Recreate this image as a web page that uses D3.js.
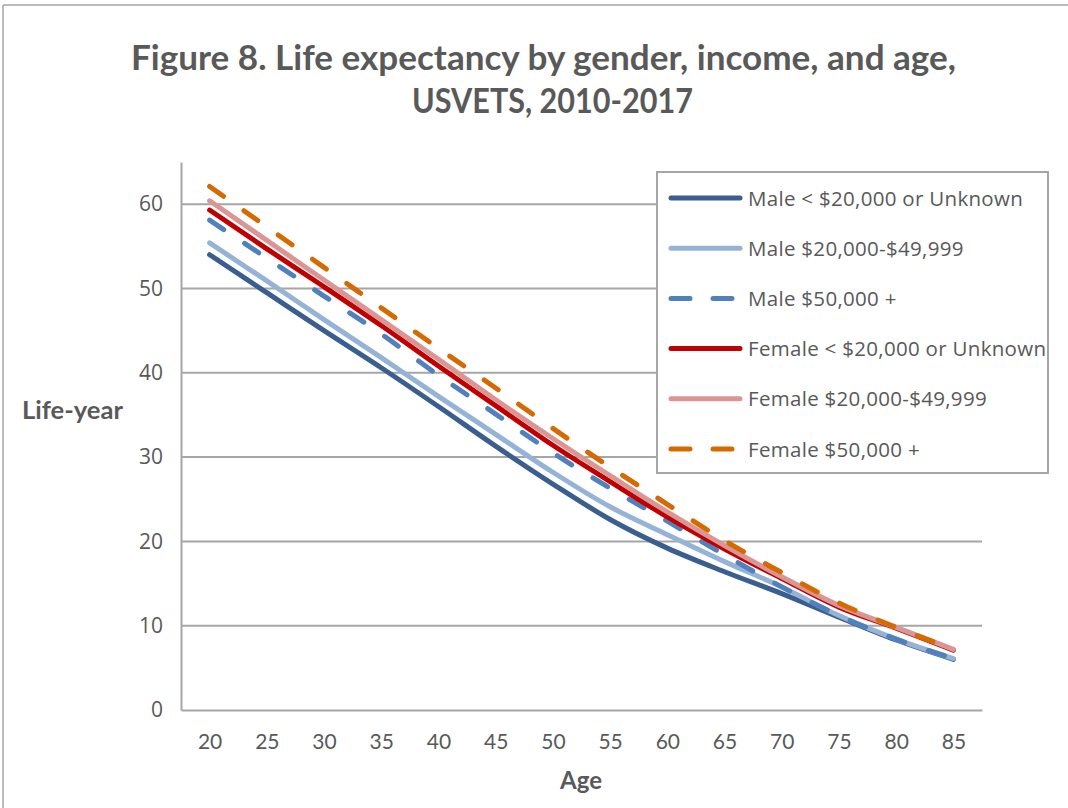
<!DOCTYPE html>
<html>
<head>
<meta charset="utf-8">
<script src="https://cdn.jsdelivr.net/npm/d3@7"></script>
<style>
  html, body { margin: 0; padding: 0; background: #fff; }
  svg { display: block; }
</style>
</head>
<body>
<svg id="chart" width="1068" height="808"></svg>
<script>
const ages = [20, 25, 30, 35, 40, 45, 50, 55, 60, 65, 70, 75, 80, 85];
const yTicks = [0, 10, 20, 30, 40, 50, 60];
const seriesNames = [
  "Male < $20,000 or Unknown",
  "Male $20,000-$49,999",
  "Male $50,000 +",
  "Female < $20,000 or Unknown",
  "Female $20,000-$49,999",
  "Female $50,000 +"
];
const maleLow    = [54.0, 49.5, 45.0, 40.6, 36.0, 31.3, 26.8, 22.6, 19.2, 16.4, 13.8, 11.0, 8.3, 6.0];
const maleMid    = [55.4, 50.9, 46.3, 41.8, 37.2, 32.7, 28.2, 24.1, 20.8, 17.6, 14.6, 11.2, 8.4, 6.1];
const maleHigh   = [58.1, 53.6, 49.1, 44.6, 39.7, 35.1, 30.5, 26.3, 22.4, 18.4, 14.6, 11.2, 8.4, 6.1];
const femaleLow  = [59.3, 54.7, 50.2, 45.6, 40.8, 36.1, 31.4, 27.1, 22.9, 19.1, 15.6, 12.2, 9.7, 7.1];
const femaleMid  = [60.4, 55.7, 51.0, 46.3, 41.6, 36.8, 32.2, 27.8, 23.5, 19.5, 15.8, 12.4, 9.8, 7.2];
const femaleHigh = [62.1, 57.3, 52.5, 47.7, 42.9, 38.2, 33.4, 28.8, 24.4, 20.1, 16.3, 12.7, 9.8, 7.2];
const seriesValues = [maleLow, maleMid, maleHigh, femaleLow, femaleMid, femaleHigh];
const colors = ["#3A5F8F", "#95B3D7", "#4F81BD", "#C00000", "#DA9694", "#D46A00"];
const dashed = [false, false, true, false, false, true];

const svg = d3.select("#chart");
const font = "'Open Sans', 'DejaVu Sans', sans-serif";
const boldFont = "Lato, 'Open Sans', sans-serif";
const textColor = "#595959";
const gridColor = "#A6A6A6";

// outer frame (top and left edges visible)
svg.append("line").attr("x1", 3).attr("x2", 1068).attr("y1", 5).attr("y2", 5)
  .attr("stroke", "#A6A6A6").attr("stroke-width", 1.5);
svg.append("line").attr("x1", 3).attr("x2", 3).attr("y1", 5).attr("y2", 808)
  .attr("stroke", "#A6A6A6").attr("stroke-width", 1.5);

// Title
const title = svg.append("g").attr("font-family", boldFont)
  .attr("font-weight", "bold").attr("fill", textColor).attr("font-size", 35);
title.append("text").attr("x", 131).attr("y", 70).attr("textLength", 825)
  .attr("lengthAdjust", "spacingAndGlyphs")
  .text("Figure 8. Life expectancy by gender, income, and age,");
title.append("text").attr("x", 412).attr("y", 113).attr("textLength", 281)
  .attr("lengthAdjust", "spacingAndGlyphs")
  .text("USVETS, 2010-2017");

const pLeft = 181, pRight = 982, pTop = 162, pBottom = 710;
const x = d3.scalePoint().domain(ages).range([pLeft, pRight]).padding(0.5);
const y = d3.scaleLinear().domain([0, 65]).range([pBottom, pTop]);

// gridlines
svg.append("g").selectAll("line").data(yTicks.filter(d => d > 0)).join("line")
  .attr("x1", pLeft).attr("x2", pRight)
  .attr("y1", d => y(d)).attr("y2", d => y(d))
  .attr("stroke", gridColor).attr("stroke-width", 2);

// y axis
const yAxis = svg.append("g").attr("transform", `translate(${pLeft},0)`)
  .call(d3.axisLeft(y).tickValues(yTicks).tickSize(0).tickPadding(18));
yAxis.select(".domain").attr("stroke", gridColor).attr("stroke-width", 2);
yAxis.selectAll("text").attr("font-family", font).attr("font-size", 21)
  .attr("fill", textColor);

// x axis
const xAxis = svg.append("g").attr("transform", `translate(0,${pBottom})`)
  .call(d3.axisBottom(x).tickSize(0).tickPadding(24));
xAxis.select(".domain").attr("stroke", gridColor).attr("stroke-width", 2);
xAxis.selectAll("text").attr("font-family", boldFont).attr("font-size", 21)
  .attr("fill", textColor);

// axis titles
svg.append("text").attr("x", 22).attr("y", 419).attr("textLength", 101)
  .attr("lengthAdjust", "spacingAndGlyphs")
  .attr("font-family", boldFont).attr("font-weight", "bold")
  .attr("font-size", 24).attr("fill", textColor).text("Life-year");
svg.append("text").attr("x", 581).attr("y", 789).attr("text-anchor", "middle")
  .attr("font-family", boldFont).attr("font-weight", "bold")
  .attr("font-size", 24).attr("fill", textColor).text("Age");

// lines
const line = d3.line().x((d, i) => x(ages[i])).y(d => y(d)).curve(d3.curveMonotoneX);
const lines = svg.append("g");
seriesValues.forEach((vals, k) => {
  lines.append("path").datum(vals)
    .attr("d", line)
    .attr("fill", "none")
    .attr("stroke", colors[k])
    .attr("stroke-width", 5)
    .attr("stroke-linecap", "round")
    .attr("stroke-linejoin", "round")
    .attr("stroke-dasharray", dashed[k] ? "17,25" : null);
});

// legend
const lg = svg.append("g");
lg.append("rect").attr("x", 657).attr("y", 172).attr("width", 391).attr("height", 301)
  .attr("fill", "#fff").attr("stroke", gridColor).attr("stroke-width", 2);
seriesNames.forEach((name, k) => {
  const yy = 198 + k * 50.2;
  lg.append("line").attr("x1", 671).attr("x2", 740).attr("y1", yy).attr("y2", yy)
    .attr("stroke", colors[k]).attr("stroke-width", 5).attr("stroke-linecap", "round")
    .attr("stroke-dasharray", dashed[k] ? "19,23" : null);
  lg.append("text").attr("x", 748).attr("y", yy + 7.5)
    .attr("font-family", font).attr("font-size", 20.5).attr("letter-spacing", 0.3)
    .attr("fill", textColor)
    .text(name);
});
</script>
</body>
</html>
